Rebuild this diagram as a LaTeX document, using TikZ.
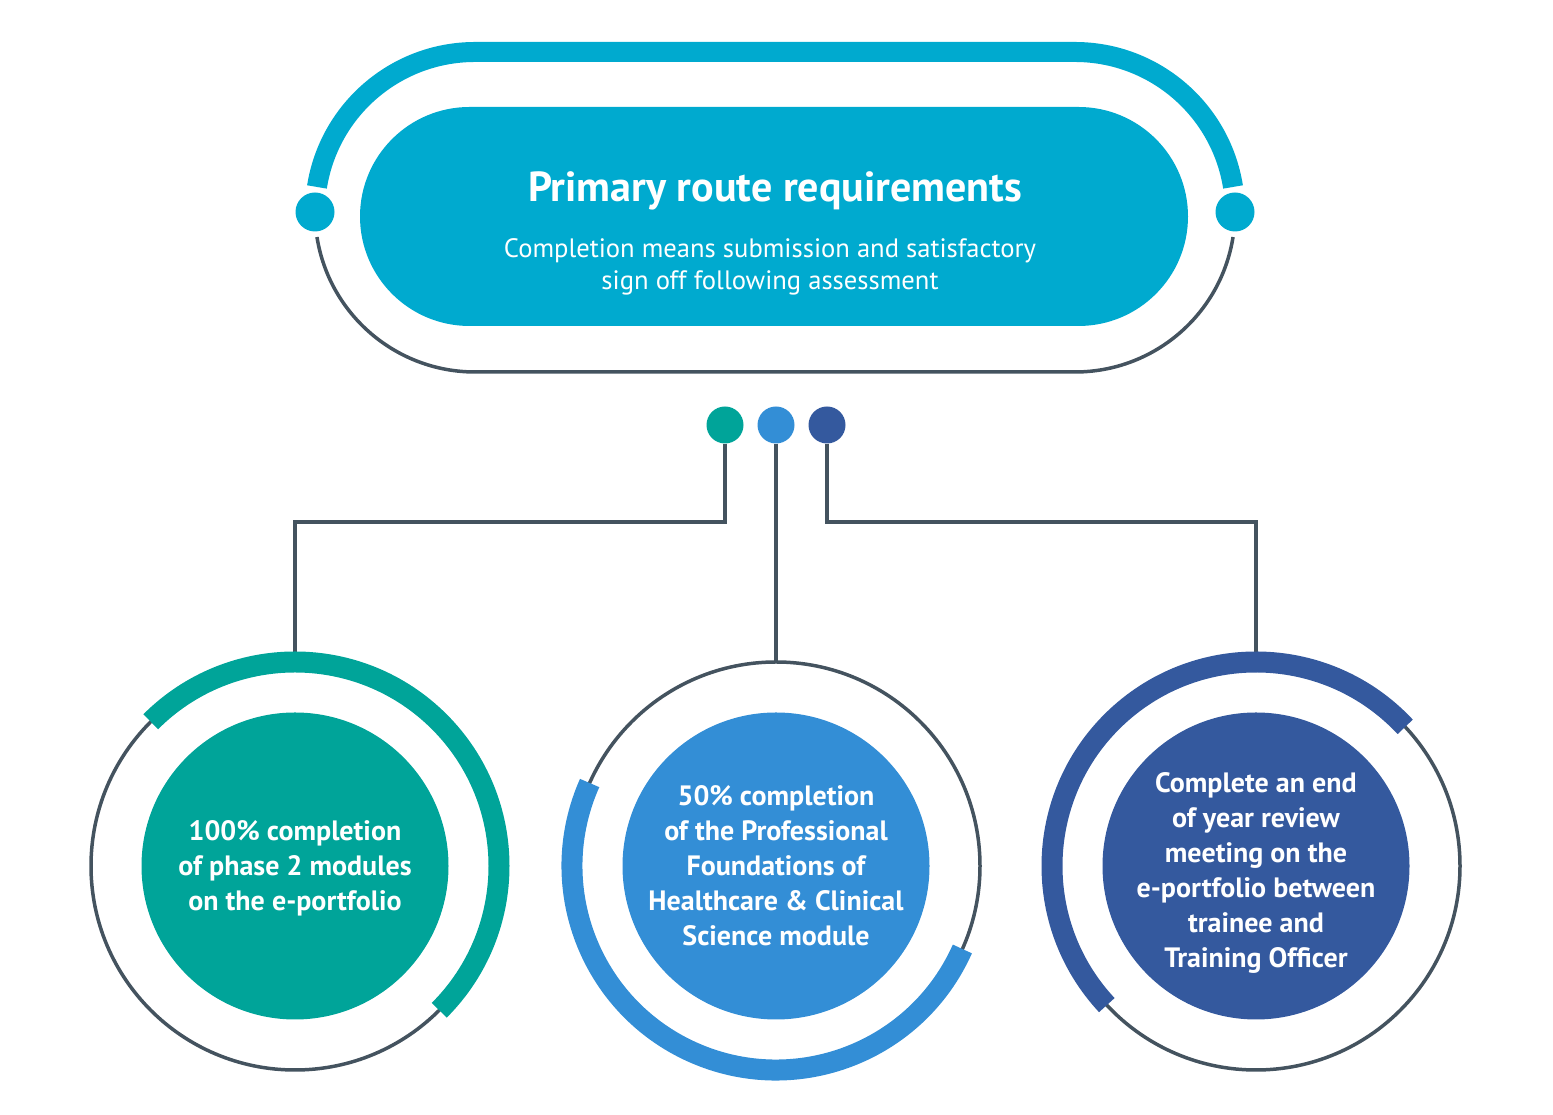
\documentclass[tikz,border=0pt]{standalone}
\usepackage{fontspec}
\setmainfont{PT Sans}
\usetikzlibrary{shapes.misc}
\definecolor{cyanc}{HTML}{00AACF}
\definecolor{tealc}{HTML}{00A499}
\definecolor{midblue}{HTML}{338ED6}
\definecolor{darkblue}{HTML}{34599E}
\definecolor{linegray}{HTML}{44535F}
\tikzset{
  ringline/.style={draw=linegray, line width=3.5pt},
  band/.style={line width=21pt},
  conn/.style={draw=linegray, line width=4pt},
  dotnode/.style={circle, inner sep=0pt, minimum size=37pt},
  bigdisc/.style={circle, inner sep=0pt, minimum size=307pt},
  disctext/.style={text=white, align=center, inner sep=0pt,
    font=\bfseries\fontsize{28}{35}\selectfont},
}
\begin{document}
\begin{tikzpicture}[x=1pt,y=1pt]
\useasboundingbox (0,0) rectangle (1553,1115);
% top outer stadium
\draw[cyanc, line width=20pt] ([shift={(171:160)}]475,903) arc[start angle=171,end angle=90,radius=160] -- (1075,1063) arc[start angle=90,end angle=9,radius=160];
\draw[ringline] ([shift={(189:160)}]475,903) arc[start angle=189,end angle=270,radius=160] -- (1075,743) arc[start angle=270,end angle=351,radius=160];
\node[dotnode, fill=cyanc, minimum size=39pt] (ldot) at (315,903) {};
\node[dotnode, fill=cyanc, minimum size=39pt] (rdot) at (1235,903) {};
% header
\node[rounded rectangle, fill=cyanc, inner sep=0pt, minimum width=828pt, minimum height=219pt] (hdr) at (774,898.5) {};
\node[anchor=base, text=white, font=\bfseries\fontsize{42}{50}\selectfont] (title) at (775,913) {Primary route requirements};
\node[anchor=base, text=white, font=\fontsize{26.6}{32}\selectfont] (sub1) at (770,857) {Completion means submission and satisfactory};
\node[anchor=base, text=white, font=\fontsize{26.6}{32}\selectfont] (sub2) at (770,825) {sign off following assessment};
% small dots
\node[dotnode, fill=tealc] (d1) at (725,690) {};
\node[dotnode, fill=midblue] (d2) at (776,690) {};
\node[dotnode, fill=darkblue] (d3) at (827,690) {};
% circles
\node[bigdisc, fill=tealc] (c1) at (295,249) {};
\node[bigdisc, fill=midblue] (c2) at (776,249) {};
\node[bigdisc, fill=darkblue] (c3) at (1256,249) {};
\node[disctext] (l1) at ([yshift=-2pt]c1.center) {100\% completion\\of phase 2 modules\\on the e-portfolio};
\node[disctext] (l2) at (c2.center) {50\% completion\\of the Professional\\Foundations of\\Healthcare \& Clinical\\Science module};
\node[disctext] (l3) at ([yshift=-7pt]c3.center) {Complete an end\\of year review\\meeting on the\\e-portfolio between\\trainee and\\Training Officer};
\path (c1.center) ++(0,204) coordinate (t1);
\path (c2.center) ++(0,204) coordinate (t2);
\path (c3.center) ++(0,204) coordinate (t3);
% connectors
\draw[conn] (d1) -- ++(0,-97) -| (t1);
\draw[conn] (d2) -- (t2);
\draw[conn] (d3) -- ++(0,-97) -| (t3);
% rings
\draw[ringline] (c1.center) circle[radius=204];
\draw[ringline] (c2.center) circle[radius=204];
\draw[ringline] (c3.center) circle[radius=204];
\draw[band, tealc] ([shift={(-45:204)}]c1.center) arc[start angle=-45,end angle=135,radius=204];
\draw[band, midblue] ([shift={(156:204)}]c2.center) arc[start angle=156,end angle=336,radius=204];
\draw[band, darkblue] ([shift={(43:204)}]c3.center) arc[start angle=43,end angle=223,radius=204];
\end{tikzpicture}
\end{document}
